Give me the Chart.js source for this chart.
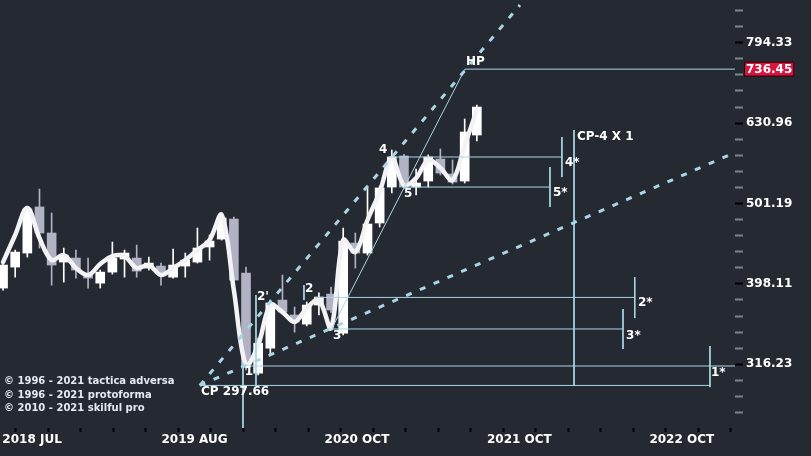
<!DOCTYPE html>
<html>
<head>
<meta charset="utf-8">
<script src="https://cdn.jsdelivr.net/npm/chart.js@4/dist/chart.umd.min.js"></script>
<style>
  html, body { margin: 0; padding: 0; background: #252932; }
  #wrap { position: relative; width: 811px; height: 456px; }
  canvas { display: block; }
  #copy {
    position: absolute; left: 4px; top: 374px;
    font: bold 10px "DejaVu Sans", sans-serif; color: #e6e8ef; line-height: 13.5px;
  }
</style>
</head>
<body>
<div id="wrap">
  <canvas id="chart" width="811" height="456"></canvas>
  <div id="copy">© 1996 - 2021 tactica adversa<br>© 1996 - 2021 protoforma<br>© 2010 - 2021 skilful pro</div>
</div>
<script>
// candles (one per bar, left to right)
const opens  = [393.4, 417.8, 434.9, 496.3, 460.6, 423.8, 428.7, 410.6, 399.0, 411.8,
                427.5, 428.7, 416.6, 419.0, 405.9, 419.0, 423.8, 442.5, 452.7, 479.4,
                410.6, 308.3, 331.2, 380.1, 364.2, 354.8, 374.7, 386.7, 345.8, 447.5,
                434.9, 474.0, 525.4, 574.3, 525.4, 534.5, 569.3, 545.3, 534.5, 609.8];
const highs  = [422.6, 438.6, 496.3, 522.4, 487.8, 441.2, 438.6, 428.7, 414.2, 448.8,
                438.6, 445.0, 429.9, 422.6, 439.9, 434.9, 467.2, 458.0, 487.8, 482.2,
                417.8, 340.9, 380.1, 408.3, 372.6, 378.0, 388.0, 394.5, 467.2, 460.6,
                524.0, 527.0, 584.2, 577.0, 553.2, 576.0, 585.9, 567.7, 638.5, 664.6];
const lows   = [391.1, 405.9, 429.9, 441.2, 396.7, 400.2, 404.8, 393.4, 393.4, 409.4,
                405.9, 405.9, 414.2, 396.7, 404.8, 405.9, 422.6, 426.2, 451.4, 400.2,
                311.2, 306.7, 324.7, 365.0, 346.7, 353.0, 364.2, 367.0, 344.0, 416.6,
                432.4, 468.6, 516.6, 522.4, 513.6, 525.4, 543.8, 530.0, 531.5, 599.4];
const closes = [420.2, 436.1, 493.4, 460.6, 420.2, 432.4, 414.2, 404.8, 411.8, 428.7,
                434.9, 413.0, 422.6, 410.6, 420.2, 426.2, 441.2, 450.1, 480.8, 402.5,
                313.7, 336.0, 376.9, 367.3, 357.0, 374.7, 383.4, 369.4, 450.1, 434.9,
                472.6, 524.0, 572.6, 525.4, 531.5, 572.6, 546.9, 532.9, 615.1, 660.7];

// smoothed white line
const lineVals = [423.8, 458.0, 494.9, 454.0, 426.2, 432.4, 416.6, 408.3, 421.4, 431.2,
                  431.0, 416.6, 420.2, 408.3, 416.6, 426.2, 438.6, 451.4, 485.0, 391.1,
                  315.5, 334.0, 374.7, 367.3, 357.0, 371.5, 380.1, 350.8, 451.4, 436.1,
                  478.1, 518.0, 571.0, 528.4, 539.0, 567.7, 555.0, 536.0, 592.0, 655.1];

// price axis
const yMajorTicks = [316.23, 398.11, 501.19, 630.96, 794.33];
const lastPrice = 736.45;

// time axis
const xTickLabels = ["2018 JUL", "2019 AUG", "2020 OCT", "2021 OCT", "2022 OCT"];
const xTickPos = [2.39, 15.76, 29.14, 42.51, 55.89];

// fan lines from CP
const fanLines = [
  [[16.2, 297.66], [42.55, 885]],
  [[16.2, 297.66], [60.25, 580]]
];

// thin annotation lines
const levelLines = [
  [[27.08, 350.8], [38.02, 736.45]],   // diagonal 3 -> HP
  [[38.02, 736.45], [60.25, 736.45]],  // HP
  [[31.7, 572.6], [46.0, 572.6]],      // 4
  [[32.84, 525.4], [45.02, 525.4]],    // 5
  [[25.7, 383.0], [52.0, 383.0]],      // 2
  [[26.9, 349.9], [51.03, 349.9]],     // 3
  [[19.9, 314.7], [60.25, 314.7]],     // 1
  [[16.2, 297.66], [58.19, 297.66]],   // CP
  [[46.0, 606.3], [46.0, 540.6]],
  [[45.02, 556.4], [45.02, 496.3]],
  [[47.0, 618.6], [47.0, 297.66]],
  [[52.0, 405.9], [52.0, 361.0]],
  [[51.03, 370.4], [51.03, 330.4]],
  [[58.19, 333.2], [58.19, 296.2]],
  [[19.75, 317.3], [19.75, 250]],
  [[20.82, 385.6], [20.82, 297.66]],
  [[24.77, 396.7], [24.77, 380.1]]
];

const noteTexts = ["HP", "4", "5", "2'", "2", "3", "1", "CP 297.66", "CP-4 X 1", "4*", "5*", "2*", "3*", "1*"];
const noteX = [38.1, 30.95, 33.0, 20.9, 24.86, 27.16, 19.9, 16.3, 47.24, 46.25, 45.27, 52.26, 51.28, 58.27];
const noteY = [752, 584, 514.5, 383.4, 392.3, 343.0, 309.3, 292.2, 606.3, 562.9, 516.6, 376.9, 343.0, 308.3];

const UP = "#ffffff";
const DOWN = "#b1b3c4";
const LINE_BLUE = "#a9d6e5";
const FONT = "DejaVu Sans";

const candleColor = (ctx) => closes[ctx.dataIndex] >= opens[ctx.dataIndex] ? UP : DOWN;

const segDatasets = levelLines.map((s) => ({
  type: "line",
  data: s.map((p) => ({ x: p[0], y: p[1] })),
  borderColor: LINE_BLUE,
  borderWidth: 1,
  pointRadius: 0,
  order: 0,
}));

const fanDatasets = fanLines.map((s) => ({
  type: "line",
  data: s.map((p) => ({ x: p[0], y: p[1] })),
  borderColor: LINE_BLUE,
  borderWidth: 3,
  borderDash: [6, 9],
  pointRadius: 0,
  order: 0,
}));

const notesPlugin = {
  id: "notes",
  afterDatasetsDraw(chart) {
    const { ctx, scales } = chart;
    ctx.save();
    ctx.font = `bold 12px "${FONT}"`;
    ctx.fillStyle = "#ffffff";
    ctx.textBaseline = "middle";
    ctx.textAlign = "left";
    noteTexts.forEach((t, i) => {
      ctx.fillText(t, scales.x.getPixelForValue(noteX[i]), scales.y.getPixelForValue(noteY[i]));
    });
    ctx.restore();
  },
  afterDraw(chart) {
    const { ctx, scales } = chart;
    const y = scales.y.getPixelForValue(lastPrice);
    const x = scales.y.left + 9;
    ctx.save();
    ctx.font = `bold 12px "${FONT}"`;
    const w = ctx.measureText(lastPrice.toFixed(2)).width + 4;
    ctx.fillStyle = "#d8143f";
    ctx.fillRect(x, y - 7.5, w, 15);
    ctx.strokeStyle = "#000";
    ctx.lineWidth = 1;
    ctx.strokeRect(x + 0.5, y - 7, w - 1, 14);
    ctx.fillStyle = "#ffffff";
    ctx.textBaseline = "middle";
    ctx.fillText(lastPrice.toFixed(2), x + 2, y + 0.5);
    ctx.restore();
  },
};

const isMajor = (v) => {
  const k = Math.log10(v) * 10;
  return Math.abs(k - Math.round(k)) < 1e-4;
};

new Chart(document.getElementById("chart"), {
  type: "bar",
  data: {
    datasets: [
      ...fanDatasets,
      ...segDatasets,
      {
        type: "line",
        data: lineVals.map((v, i) => ({ x: i, y: v })),
        borderColor: "#f3f3f5",
        borderWidth: 4.5,
        tension: 0.35,
        pointRadius: 0,
        borderCapStyle: "round",
        order: 1,
      },
      {
        data: opens.map((o, i) => ({ x: i, y: [o, closes[i]] })),
        backgroundColor: candleColor,
        barThickness: 9,
        grouped: false,
        order: 2,
      },
      {
        data: lows.map((l, i) => ({ x: i, y: [l, highs[i]] })),
        backgroundColor: candleColor,
        barThickness: 1,
        grouped: false,
        order: 3,
      },
    ],
  },
  options: {
    responsive: false,
    animation: false,
    devicePixelRatio: 1,
    layout: { padding: 0 },
    plugins: { legend: { display: false }, tooltip: { enabled: false } },
    scales: {
      x: {
        type: "linear",
        min: -0.25,
        max: 60.25,
        offset: false,
        grid: { drawOnChartArea: false, tickLength: 4, tickColor: "#000", tickWidth: 2 },
        border: { display: false },
        afterBuildTicks: (scale) => {
          const ticks = [];
          const step = (xTickPos[1] - xTickPos[0]) / 5;
          for (let v = xTickPos[0]; v <= 60.25; v += step) ticks.push({ value: v });
          scale.ticks = ticks;
        },
        afterFit: (scale) => {
          scale.height = 28;
          scale.paddingLeft = 0;
          scale.paddingRight = 0;
        },
        ticks: {
          autoSkip: false,
          maxRotation: 0,
          minRotation: 0,
          padding: 1,
          color: "#ffffff",
          font: { family: FONT, size: 12, weight: "bold" },
          callback: (v, i) => (i % 5 === 0 ? xTickLabels[i / 5] : ""),
        },
      },
      y: {
        type: "logarithmic",
        position: "right",
        min: 263.5,
        max: 897.7,
        grid: {
          drawOnChartArea: false,
          tickLength: 8,
          tickWidth: 2,
          tickColor: (ctx) => (ctx.tick && isMajor(ctx.tick.value) ? "#000" : "#7f828c"),
        },
        border: { display: false },
        afterBuildTicks: (scale) => {
          const ticks = [];
          for (let k = 122; k <= 147; k++) ticks.push({ value: Math.pow(10, k / 50) });
          scale.ticks = ticks;
        },
        afterFit: (scale) => {
          scale.width = 76;
          scale.paddingTop = 0;
          scale.paddingBottom = 0;
        },
        ticks: {
          autoSkip: false,
          padding: 3,
          color: "#ffffff",
          font: { family: FONT, size: 12, weight: "bold" },
          callback: (v) => {
            const m = yMajorTicks.find((t) => Math.abs(t - v) < 0.05);
            return m ? m.toFixed(2) : "";
          },
        },
      },
    },
  },
  plugins: [notesPlugin],
});
</script>
</body>
</html>
